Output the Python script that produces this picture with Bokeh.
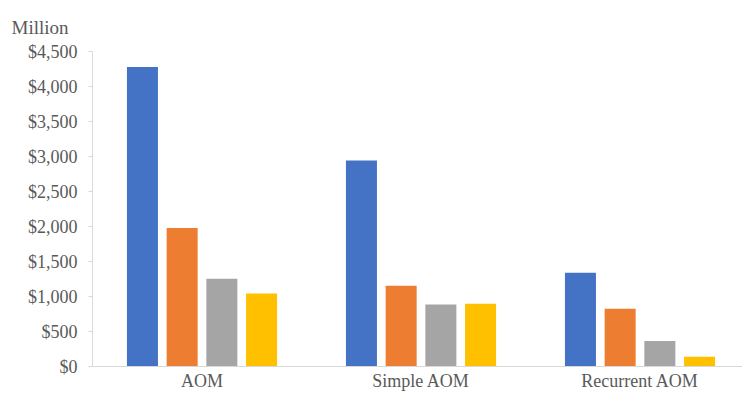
from bokeh.plotting import figure
from bokeh.models import ColumnDataSource, Range1d, FixedTicker, NumeralTickFormatter
from bokeh.embed import file_html
from bokeh.resources import INLINE

# Cost by condition, four series (US$ million)
categories = ["AOM", "Simple AOM", "Recurrent AOM"]
series_a = [4280, 2943, 1338]
series_b = [1980, 1153, 826]
series_c = [1253, 884, 366]
series_d = [1044, 898, 138]
y_ticks = [0, 500, 1000, 1500, 2000, 2500, 3000, 3500, 4000, 4500]

series = [series_a, series_b, series_c, series_d]
colors = ["#4472C4", "#ED7D31", "#A5A5A5", "#FFC000"]

FONT = "Liberation Serif"
TEXT_COLOR = "#595959"
AXIS_COLOR = "#D9D9D9"

p = figure(width=742, height=393, output_backend="svg", toolbar_location=None,
           x_range=Range1d(0, 2.968), y_range=Range1d(0, 4500),
           min_border_left=92, min_border_right=0, min_border_top=51,
           min_border_bottom=26, title="Million")
p.outline_line_color = None
p.xgrid.visible = False
p.ygrid.visible = False
p.background_fill_color = "white"
p.border_fill_color = "white"

p.title.text_font = FONT
p.title.text_font_size = "19px"
p.title.text_font_style = "normal"
p.title.text_color = TEXT_COLOR
p.title.align = "left"
p.title.offset = -81
p.title.standoff = 28

centers = [i + 0.5 for i in range(len(categories))]
pitch = 0.1813
bar_w = 0.1416
for k, (vals, col) in enumerate(zip(series, colors)):
    off = (k - 1.5) * pitch
    src = ColumnDataSource(dict(x=[c + off for c in centers], top=vals))
    p.vbar(x="x", top="top", bottom=0, width=bar_w, source=src,
           fill_color=col, line_color=None)

# y axis
ya = p.yaxis[0]
ya.ticker = FixedTicker(ticks=y_ticks)
ya.formatter = NumeralTickFormatter(format="$0,0")
ya.axis_line_color = AXIS_COLOR
ya.major_tick_line_color = AXIS_COLOR
ya.major_tick_out = 4
ya.major_tick_in = 0
ya.minor_tick_line_color = None
ya.major_label_standoff = 11
ya.major_label_text_font = FONT
ya.major_label_text_font_size = "18px"
ya.major_label_text_color = TEXT_COLOR

# x axis: line with category names under each group
xa = p.xaxis[0]
xa.ticker = FixedTicker(ticks=centers)
xa.major_label_overrides = {c: name for c, name in zip(centers, categories)}
xa.axis_line_color = AXIS_COLOR
xa.major_tick_line_color = None
xa.major_tick_out = 0
xa.major_tick_in = 0
xa.minor_tick_line_color = None
xa.major_label_standoff = 4
xa.major_label_text_font = FONT
xa.major_label_text_font_size = "18px"
xa.major_label_text_color = TEXT_COLOR

open("out.html", "w").write(file_html(p, INLINE))
